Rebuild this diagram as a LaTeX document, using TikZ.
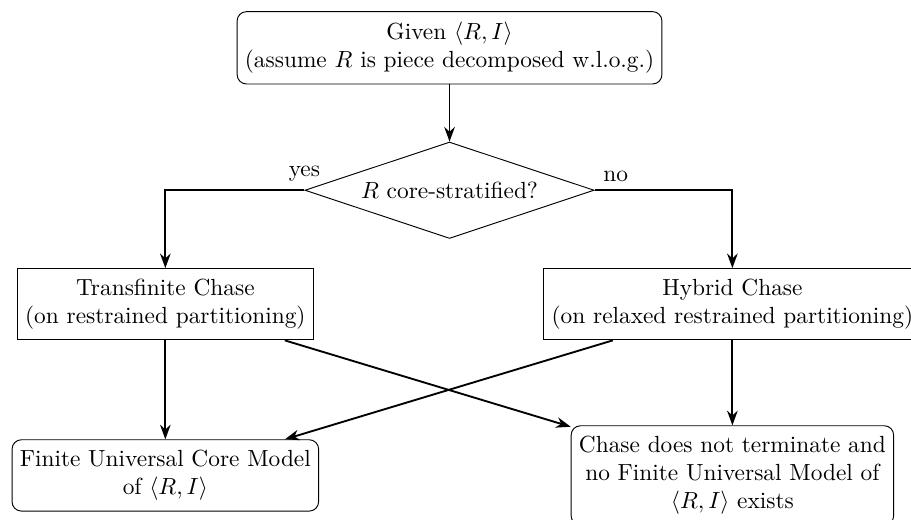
\documentclass[tikz,border=0pt]{standalone}
\usepackage{amsmath}
\usepackage{tikz}
\usetikzlibrary{arrows.meta, positioning, shapes.geometric}

\begin{document}
\begin{tikzpicture}[
    node distance=0.86cm and 0.3cm,
    boxRounded/.style={
        rectangle,
        rounded corners,
        draw,
        inner ysep=4.5pt,
        align=center
    },
    boxSquare/.style={
        rectangle,
        draw,
        inner ysep=4.5pt,
        align=center
    },
    boxDecision/.style={
        diamond,
        draw,
        aspect=3,
        align=center
    },
    lineArrow/.style={
        thick,
        -{Stealth[length=2.2mm, width=1.6mm]}
    }
]
\useasboundingbox (0,0) rectangle (13.72,-7.82);

% Haut
\node[boxRounded] (given) at (6.77,-0.72) {
Given $\langle R, I\rangle$\\
(assume $R$ is piece decomposed w.l.o.g.)
};

\node[boxDecision, below=of given] (core) {$R$ core-stratified?};

% Ligne 1
\node[boxSquare, below=0.44cm of core, xshift=-4.28cm] (trans) {
Transfinite Chase\\
(on restrained partitioning)
};

\node[boxSquare, below=0.44cm of core, xshift=4.26cm] (hybrid) {
Hybrid Chase\\
(on relaxed restrained partitioning)
};

% Ligne 2
\node[boxRounded, below=1.49cm of trans] (finite) {
Finite Universal Core Model\\
of $\langle R, I\rangle$
};

\node[boxRounded] (nofinite) at (hybrid |- finite) {
Chase does not terminate and\\
no Finite Universal Model of\\
$\langle R, I\rangle$ exists
};

% Fleches
\draw[lineArrow] (given) -- (core);
\draw[lineArrow] (core.west) -| node[pos=0, above] {yes} (trans);
\draw[lineArrow] (core.east) -| node[pos=0, above right] {no} (hybrid);
\draw[lineArrow] (trans) -- (finite);
\draw[lineArrow] (trans) -- (nofinite);
\draw[lineArrow] (hybrid) -- (nofinite);
\draw[lineArrow] (hybrid) -- (finite);

\end{tikzpicture}
\end{document}
